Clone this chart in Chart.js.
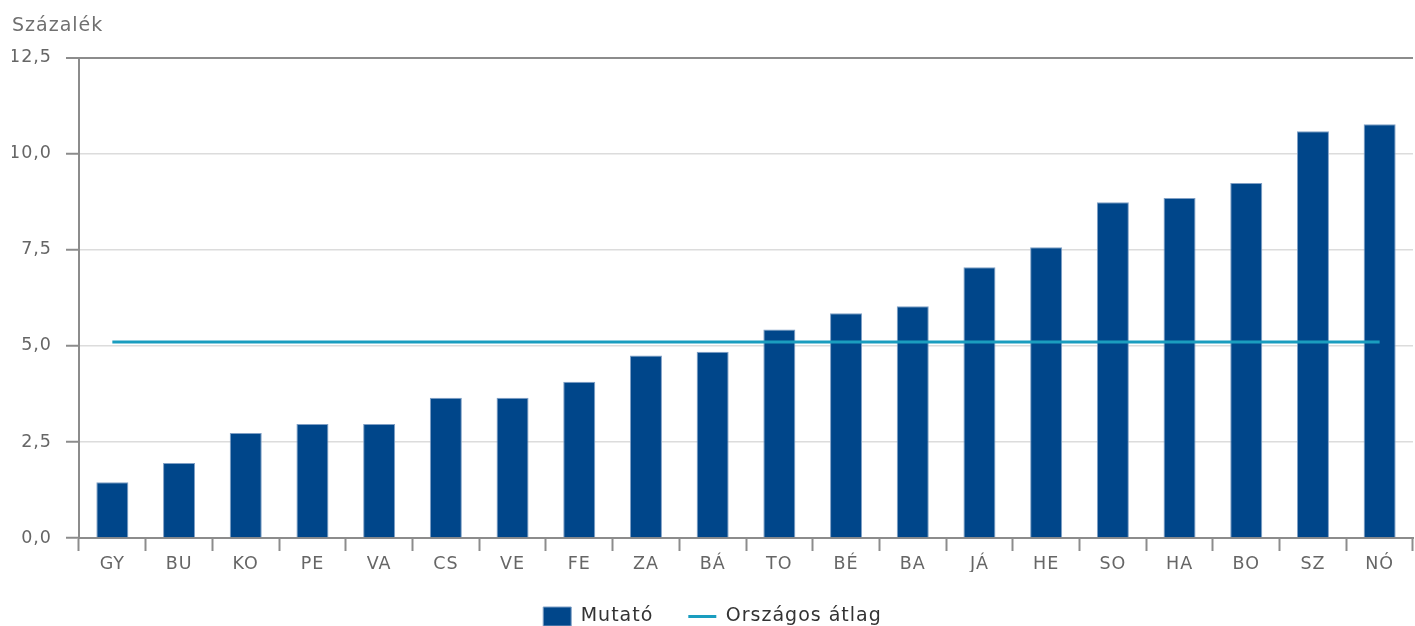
<!DOCTYPE html>
<html>
<head>
<meta charset="utf-8">
<script src="https://cdn.jsdelivr.net/npm/chart.js@4/dist/chart.umd.min.js"></script>
<style>
  html, body { margin: 0; padding: 0; background: #fff; }
  #wrap { width: 1415px; height: 626px; position: relative; }
</style>
</head>
<body>
<div id="wrap"><canvas id="chart"></canvas></div>
<script>
// Adatok
const megyek = ['GY', 'BU', 'KO', 'PE', 'VA', 'CS', 'VE', 'FE', 'ZA', 'BÁ', 'TO', 'BÉ', 'BA', 'JÁ', 'HE', 'SO', 'HA', 'BO', 'SZ', 'NÓ'];
const mutato = [1.45, 1.95, 2.73, 2.97, 2.97, 3.65, 3.65, 4.07, 4.75, 4.85, 5.43, 5.85, 6.03, 7.05, 7.57, 8.74, 8.85, 9.24, 10.59, 10.77];
const orszagosAtlag = [5.1, 5.1, 5.1, 5.1, 5.1, 5.1, 5.1, 5.1, 5.1, 5.1, 5.1, 5.1, 5.1, 5.1, 5.1, 5.1, 5.1, 5.1, 5.1, 5.1];
const yTicks = [0, 2.5, 5, 7.5, 10, 12.5];

const FONT = "'DejaVu Sans', Verdana, sans-serif";
const AXIS = '#8c8c8c';

// kicsit ritkított betűköz, mint az eredetin
const betukoz = {
    id: 'betukoz',
    beforeUpdate(chart) { chart.ctx.letterSpacing = '1px'; },
    beforeDraw(chart) { chart.ctx.letterSpacing = '1px'; }
};

new Chart(document.getElementById('chart'), {
    type: 'bar',
    plugins: [betukoz],
    data: {
        labels: megyek,
        datasets: [
            {
                label: 'Mutató',
                data: mutato,
                backgroundColor: '#00468a',
                borderColor: '#7f9fc5',
                borderWidth: 1,
                pointStyle: 'rect',
                categoryPercentage: 1,
                barPercentage: 0.48,
                order: 1
            },
            {
                type: 'line',
                label: 'Országos átlag',
                data: orszagosAtlag,
                borderColor: '#1a9dbf',
                backgroundColor: '#1a9dbf',
                borderWidth: 3,
                pointRadius: 0,
                pointStyle: 'line',
                order: 0
            }
        ]
    },
    options: {
        responsive: true,
        maintainAspectRatio: false,
        animation: false,
        layout: { padding: { left: 12, right: 2, top: 4, bottom: 0 } },
        plugins: {
            title: {
                display: true,
                text: 'Százalék',
                align: 'start',
                color: '#707070',
                font: { family: FONT, size: 19, weight: 'normal' },
                padding: { top: 11, bottom: 20 }
            },
            legend: {
                position: 'bottom',
                maxHeight: 54,
                labels: {
                    usePointStyle: true,
                    pointStyleWidth: 28,
                    boxHeight: 20,
                    padding: 35,
                    color: '#333',
                    font: { family: FONT, size: 19 },
                    sort: (a, b) => a.datasetIndex - b.datasetIndex
                }
            },
            tooltip: { enabled: false }
        },
        scales: {
            x: {
                afterFit: axis => { axis.height = 34; },
                grid: {
                    drawOnChartArea: true,
                    color: ctx => ctx.index === megyek.length ? '#d0d0d0' : 'rgba(0,0,0,0)',
                    tickColor: AXIS,
                    tickWidth: 2,
                    tickLength: 13
                },
                border: { color: AXIS, width: 2 },
                ticks: {
                    color: '#666',
                    font: { family: FONT, size: 17.5 },
                    padding: 3,
                    maxRotation: 0
                }
            },
            y: {
                min: 0,
                max: 12.5,
                afterFit: axis => { axis.width = 67; },
                afterBuildTicks: axis => { axis.ticks = yTicks.map(v => ({ value: v })); },
                grid: {
                    color: ctx => ctx.tick && ctx.tick.value === 12.5 ? AXIS : '#dcdcdc',
                    lineWidth: ctx => ctx.tick && ctx.tick.value === 12.5 ? 2 : 1.5,
                    tickColor: AXIS,
                    tickWidth: 2,
                    tickLength: 13
                },
                border: { color: AXIS, width: 2 },
                ticks: {
                    color: '#666',
                    font: { family: FONT, size: 17.5 },
                    padding: 14,
                    callback: v => v.toFixed(1).replace('.', ',')
                }
            }
        }
    }
});
</script>
</body>
</html>
